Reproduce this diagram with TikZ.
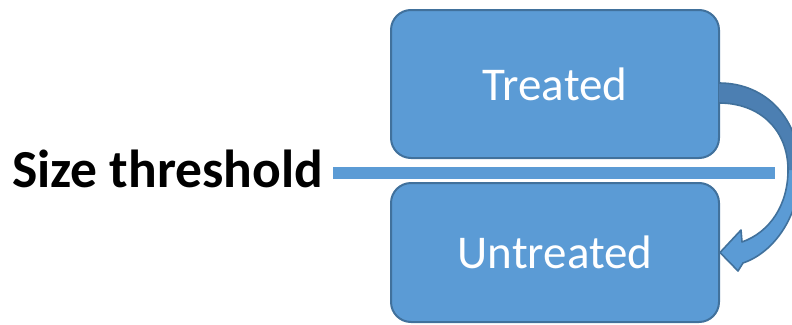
\documentclass[tikz,border=0pt]{standalone}
\usepackage{fontspec}
\setmainfont{Carlito}
\usepackage{tikz}
\usetikzlibrary{calc}
\definecolor{boxblue}{HTML}{5B9BD5}
\definecolor{boxedge}{HTML}{41719C}
\definecolor{backblue}{HTML}{4C7FB2}

\begin{document}
\begin{tikzpicture}[x=1pt,y=-1pt,
	groupbox/.style={draw=boxedge,fill=boxblue,line width=2pt,rounded corners=20pt,
		minimum width=328pt,text=white,font=\fontsize{47}{56}\selectfont},
	bandarrow/.style={draw=boxedge,line width=1.6pt,line join=round}]
			\useasboundingbox (0,0) rectangle (792,324);
			\clip (0,0) rectangle (792,324);
			\node[groupbox,minimum height=148pt] (treated) at (555,84) {Treated};
			\node[groupbox,minimum height=139pt] (untreated) at (555,252.5) {Untreated};
			\node[anchor=base west,inner sep=0pt,font=\fontsize{53.5}{62}\selectfont\bfseries] (size) at (12,187) {Size threshold};
			\coordinate (lineend) at (775,173);
			\draw[boxblue,line width=12pt] ($(size.base east)+(10,-14)$) -- (lineend);
			\fill[boxblue] (treated.east) ++(0,-1)
				.. controls (767,83) and (800,120) .. (800,170)
				.. controls (800,215) and (775,252) .. (743,263)
				-- (738,271) -- (untreated.east) -- (741,230) -- (742,242)
				.. controls (770,232) and (788,205) .. (788,170)
				.. controls (788,130) and (760,103) .. (719,103) -- cycle;
			\fill[backblue] (719,83)
				.. controls (767,83) and (800,120) .. (800,170)
				-- (788,170)
				.. controls (788,130) and (760,103) .. (719,103) -- cycle;
			\draw[bandarrow] (719,83)
				.. controls (767,83) and (800,120) .. (800,170)
				.. controls (800,215) and (775,252) .. (743,263)
				-- (738,271) -- (untreated.east) -- (741,230) -- (742,242)
				.. controls (770,232) and (788,205) .. (788,170)
				.. controls (788,130) and (760,103) .. (719,103);
		\end{tikzpicture}
\end{document}
